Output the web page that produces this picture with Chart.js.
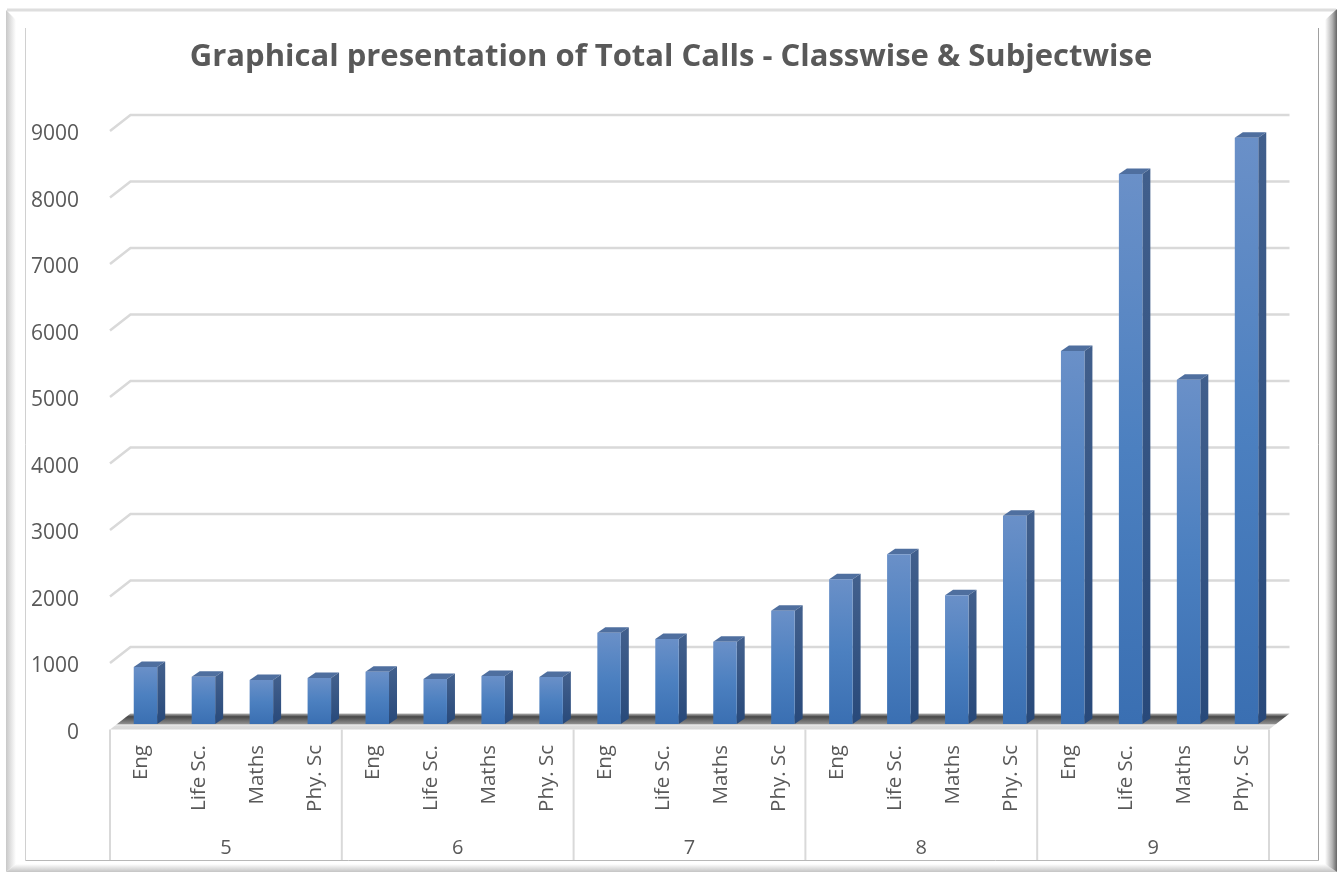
<!DOCTYPE html>
<html>
<head>
<meta charset="utf-8">
<style>
  html, body { margin: 0; padding: 0; background: #fff; overflow: hidden; }
  canvas { display: block; }
</style>
<script src="https://cdn.jsdelivr.net/npm/chart.js@4/dist/chart.umd.min.js"></script>
</head>
<body>
<canvas id="myChart" width="1342" height="872"></canvas>
<script>
const subjects = ['Eng', 'Life Sc.', 'Maths', 'Phy. Sc'];
const classes = ['5', '6', '7', '8', '9'];
const calls5 = [857, 711, 662, 692];
const calls6 = [787, 677, 722, 707];
const calls7 = [1373, 1278, 1238, 1704];
const calls8 = [2176, 2552, 1935, 3132];
const calls9 = [5610, 8270, 5175, 8815];

const labels = classes.flatMap(() => subjects);
const values = [...calls5, ...calls6, ...calls7, ...calls8, ...calls9];

const fontName = '"Open Sans", sans-serif';
const textColor = '#595959';
const gridColor = '#d9d9d9';

// 3D look: how far the walls sit from the plane of the bars
const frontDx = -6.5, frontDy = 5.5;
const backDx = 14, backDy = -10.5;
const sideDx = 8, sideDy = -5.5;

function barGradient(c) {
  const chart = c.chart;
  if (!chart.chartArea || c.dataIndex === undefined) return '#4a7ebb';
  const top = chart.scales.y.getPixelForValue(values[c.dataIndex]);
  const g = chart.ctx.createLinearGradient(0, top, 0, chart.scales.y.getPixelForValue(0));
  g.addColorStop(0, '#6a90c8');
  g.addColorStop(0.5, '#4c80c0');
  g.addColorStop(1, '#3a6fb2');
  return g;
}

const framePlugin = {
  id: 'frame',
  beforeDraw(chart) {
    const ctx = chart.ctx;
    ctx.save();
    // outer line
    ctx.strokeStyle = '#dedede';
    ctx.lineWidth = 3;
    ctx.beginPath();
    ctx.moveTo(7, 10);
    ctx.lineTo(1336, 10);
    ctx.stroke();
    // left band
    let g = ctx.createLinearGradient(6, 0, 16, 0);
    g.addColorStop(0, '#c8c8c8');
    g.addColorStop(1, '#ffffff');
    ctx.fillStyle = g;
    ctx.beginPath();
    ctx.moveTo(6, 10); ctx.lineTo(16, 20); ctx.lineTo(16, 864); ctx.lineTo(6, 872);
    ctx.fill();
    // bottom band
    g = ctx.createLinearGradient(0, 864, 0, 872);
    g.addColorStop(0, '#ffffff');
    g.addColorStop(1, '#c4c4c4');
    ctx.fillStyle = g;
    ctx.beginPath();
    ctx.moveTo(6, 872); ctx.lineTo(16, 864); ctx.lineTo(1326, 864); ctx.lineTo(1337, 872);
    ctx.fill();
    // right band
    g = ctx.createLinearGradient(1325, 0, 1337, 0);
    g.addColorStop(0, '#ffffff');
    g.addColorStop(0.6, '#b4b4b4');
    g.addColorStop(1, '#666666');
    ctx.fillStyle = g;
    ctx.beginPath();
    ctx.moveTo(1337, 9); ctx.lineTo(1325, 20); ctx.lineTo(1325, 864); ctx.lineTo(1337, 872);
    ctx.fill();
    // inner thin lines
    ctx.lineWidth = 1;
    [['#d0d0d0', 25.5, 28, 25.5, 860.5], ['#b8b8b8', 25.5, 860.5, 1318.5, 860.5], ['#a0a0a0', 1318.5, 860.5, 1318.5, 28]].forEach(l => {
      ctx.strokeStyle = l[0];
      ctx.beginPath();
      ctx.moveTo(l[1], l[2]);
      ctx.lineTo(l[3], l[4]);
      ctx.stroke();
    });
    ctx.restore();
  }
};

const wallPlugin = {
  id: 'wall',
  beforeDatasetsDraw(chart) {
    const ctx = chart.ctx;
    const { left, right } = chart.chartArea;
    const y = chart.scales.y;
    ctx.save();
    // back wall grid lines, folding down to the front at the left
    ctx.strokeStyle = gridColor;
    ctx.lineWidth = 2.5;
    y.ticks.forEach(t => {
      if (t.value === 0) return;
      const py = y.getPixelForValue(t.value);
      ctx.beginPath();
      ctx.moveTo(left + frontDx, py + frontDy);
      ctx.lineTo(left + backDx, py + backDy);
      ctx.lineTo(right + backDx, py + backDy);
      ctx.stroke();
    });
    // floor
    const p0 = y.getPixelForValue(0);
    const g = ctx.createLinearGradient(0, p0 + backDy, 0, p0 + frontDy);
    g.addColorStop(0, '#b4b4b4');
    g.addColorStop(0.2, '#484848');
    g.addColorStop(0.66, '#909090');
    g.addColorStop(0.7, '#ececec');
    g.addColorStop(0.8, '#dcdcdc');
    g.addColorStop(1, '#d8d8d8');
    ctx.fillStyle = g;
    ctx.beginPath();
    ctx.moveTo(left + frontDx, p0 + frontDy);
    ctx.lineTo(left + backDx, p0 + backDy);
    ctx.lineTo(right + backDx, p0 + backDy);
    ctx.lineTo(right + frontDx, p0 + frontDy);
    ctx.fill();
    // bar sides and tops
    chart.getDatasetMeta(0).data.forEach(bar => {
      const x0 = bar.x - bar.width / 2, x1 = bar.x + bar.width / 2;
      ctx.fillStyle = '#4f6f9f';
      ctx.beginPath();
      ctx.moveTo(x0, bar.y);
      ctx.lineTo(x0 + sideDx, bar.y + sideDy);
      ctx.lineTo(x1 + sideDx, bar.y + sideDy);
      ctx.lineTo(x1, bar.y);
      ctx.fill();
      const sg = ctx.createLinearGradient(0, bar.y, 0, bar.base);
      sg.addColorStop(0, '#415f8c');
      sg.addColorStop(1, '#28497a');
      ctx.fillStyle = sg;
      ctx.beginPath();
      ctx.moveTo(x1, bar.y);
      ctx.lineTo(x1 + sideDx, bar.y + sideDy);
      ctx.lineTo(x1 + sideDx, bar.base + sideDy);
      ctx.lineTo(x1, bar.base);
      ctx.fill();
    });
    ctx.restore();
  },
  afterDraw(chart) {
    // dividers of the two level category axis
    const ctx = chart.ctx;
    const xc = chart.scales.xClass;
    const step = chart.chartArea.width / classes.length;
    const p0 = chart.scales.y.getPixelForValue(0);
    ctx.save();
    ctx.strokeStyle = gridColor;
    ctx.lineWidth = 2;
    for (let i = 0; i <= classes.length; i++) {
      const px = xc.getPixelForValue(i) - step / 2 + frontDx;
      ctx.beginPath();
      ctx.moveTo(px, p0 + frontDy);
      ctx.lineTo(px, 860);
      ctx.stroke();
    }
    ctx.restore();
  }
};

new Chart(document.getElementById('myChart'), {
  type: 'bar',
  data: {
    labels: labels,
    datasets: [{
      label: 'Total Calls',
      data: values,
      backgroundColor: barGradient,
      borderWidth: 0,
      barPercentage: 0.405,
      categoryPercentage: 1
    }]
  },
  options: {
    responsive: false,
    animation: false,
    layout: { padding: { left: 0, right: 0, top: 0, bottom: 12 } },
    plugins: {
      legend: { display: false },
      tooltip: { enabled: false },
      title: {
        display: true,
        text: 'Graphical presentation of Total Calls - Classwise & Subjectwise',
        color: textColor,
        font: { family: fontName, size: 31, weight: 'bold', lineHeight: 1.2 },
        padding: { top: 38.5, bottom: 49.8 }
      }
    },
    scales: {
      y: {
        min: 0,
        max: 9000,
        afterFit(scale) { scale.width = 116.5; },
        grid: { display: false },
        border: { display: false },
        ticks: {
          stepSize: 1000,
          color: textColor,
          padding: 29.5,
          labelOffset: 9,
          font: { family: fontName, size: 21 },
          callback: v => String(v)
        }
      },
      // empty axis, only keeps the plot clear of the right edge so the title stays centred
      yRight: {
        position: 'right',
        afterFit(scale) { scale.width = 66.5; },
        grid: { display: false },
        border: { display: false },
        ticks: { display: false }
      },
      x: {
        weight: 0,
        afterFit(scale) { scale.height = 105; },
        grid: { display: false, drawTicks: false },
        border: { display: false },
        ticks: {
          autoSkip: false,
          minRotation: 90,
          maxRotation: 90,
          color: textColor,
          padding: 21,
          labelOffset: -4,
          font: { family: fontName, size: 20.5 }
        }
      },
      xClass: {
        type: 'category',
        axis: 'x',
        position: 'bottom',
        weight: 1,
        offset: true,
        labels: classes,
        afterFit(scale) { scale.height = 31; },
        grid: { display: false, drawTicks: false },
        border: { display: false },
        ticks: {
          autoSkip: false,
          maxRotation: 0,
          color: textColor,
          padding: 7,
          labelOffset: -6.5,
          font: { family: fontName, size: 20 }
        }
      }
    }
  },
  plugins: [framePlugin, wallPlugin]
});
</script>
</body>
</html>
